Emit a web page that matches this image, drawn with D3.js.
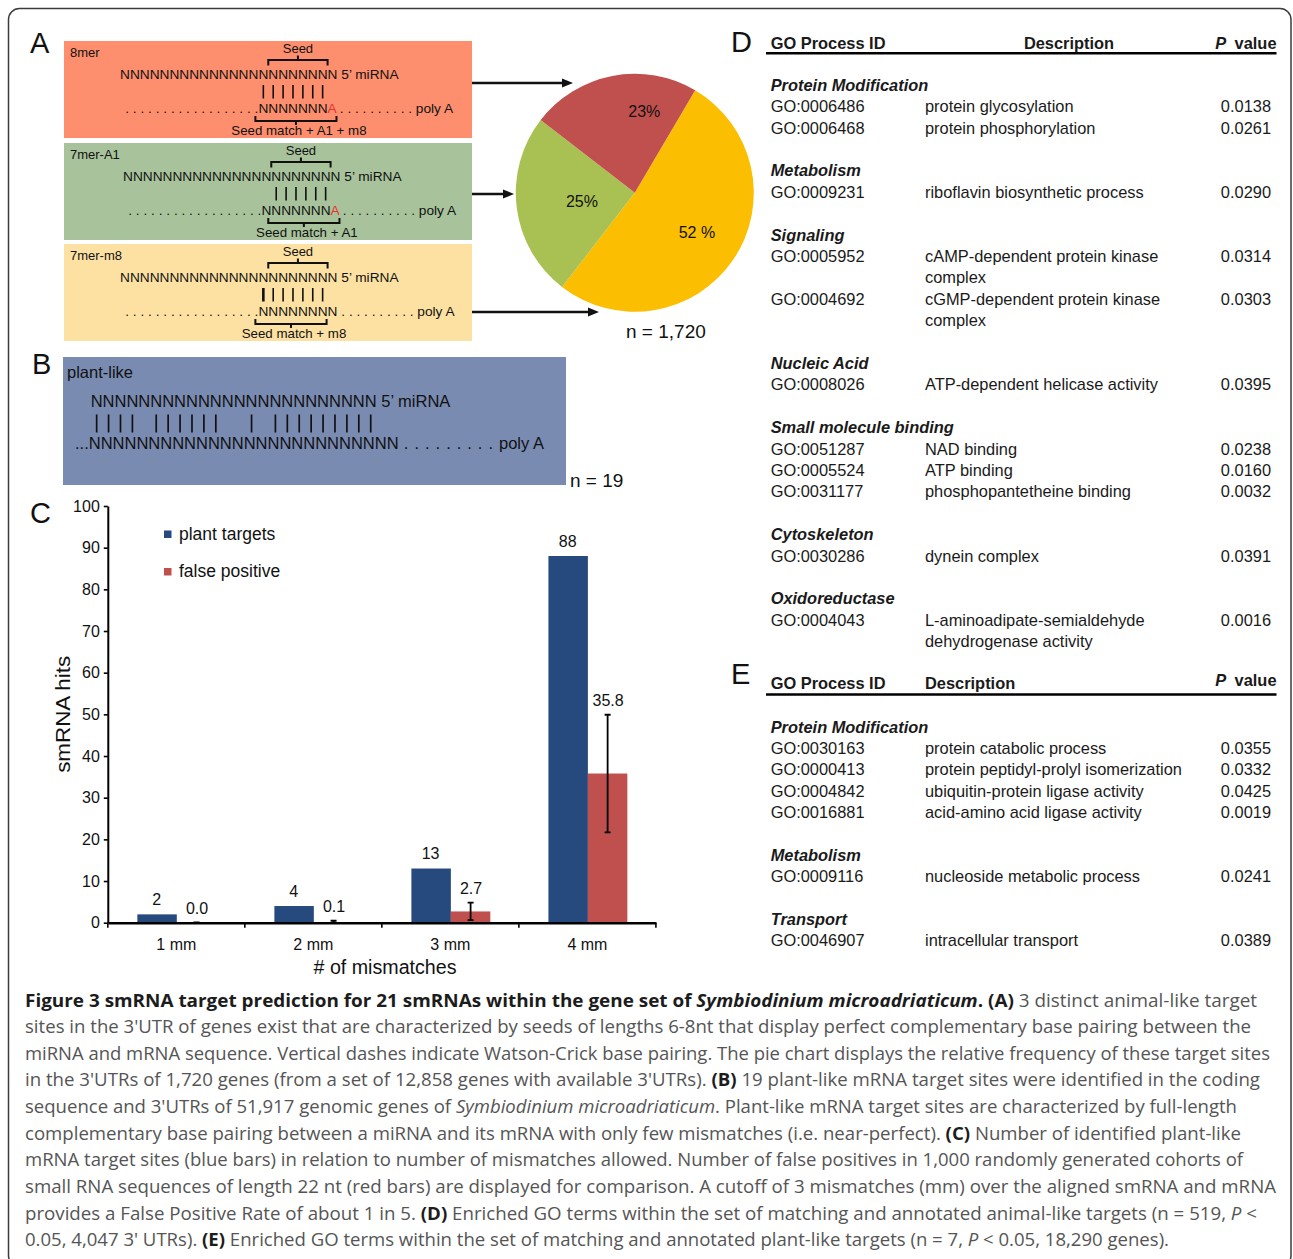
<!DOCTYPE html>
<html>
<head>
<meta charset="utf-8">
<script src="https://cdn.jsdelivr.net/npm/d3@7"></script>
<style>
  body { margin: 0; background: #fff; }
  svg { display: block; }
  text { white-space: pre; }
</style>
</head>
<body>
<svg id="fig" width="1293" height="1259"></svg>
<script>
// ---------- data ----------
// (A) animal-like seed sites
const siteTypes = ['8mer', '7mer-A1', '7mer-m8'];
const siteShares = [23, 25, 52];                 // % of 1,720 genes
const siteShareLabels = ['23%', '25%', '52 %'];
const sitePairFrom = [14, 15, 14];               // paired miRNA positions (0-based, 22 nt shown)
const sitePairTo = [20, 20, 20];
const siteTargets = ['NNNNNNNA', 'NNNNNNNA', 'NNNNNNNN'];
const siteMatchFrom = [14, 15, 14];
const siteMatchTo = [21, 21, 20];
const siteMatchLabels = ['Seed match + A1 + m8', 'Seed match + A1', 'Seed match + m8'];
const animalTotal = 'n = 1,720';

// (B) plant-like full-length pairing
const plantPairing = '111101111110010111111111';
const plantTotal = 'n = 19';

// (C) hits per number of mismatches
const mismatchCats = ['1 mm', '2 mm', '3 mm', '4 mm'];
const plantTargets = [2, 4, 13, 88];
const falsePositives = [0.0, 0.1, 2.7, 35.8];
const falsePositiveErr = [0.1, 0.4, 2.1, 14.1];
const yTicks = [0, 10, 20, 30, 40, 50, 60, 70, 80, 90, 100];
const seriesNames = ['plant targets', 'false positive'];

// (D) enriched GO terms, animal-like targets
const goAnimalGroups = ['Protein Modification', 'Metabolism', 'Signaling', 'Nucleic Acid',
  'Small molecule binding', 'Cytoskeleton', 'Oxidoreductase'];
const goAnimalGroupOf = [0, 0, 1, 2, 2, 3, 4, 4, 4, 5, 6];
const goAnimalIds = ['GO:0006486', 'GO:0006468', 'GO:0009231', 'GO:0005952', 'GO:0004692',
  'GO:0008026', 'GO:0051287', 'GO:0005524', 'GO:0031177', 'GO:0030286', 'GO:0004043'];
const goAnimalTerms = ['protein glycosylation', 'protein phosphorylation',
  'riboflavin biosynthetic process', 'cAMP-dependent protein kinase\ncomplex',
  'cGMP-dependent protein kinase\ncomplex', 'ATP-dependent helicase activity',
  'NAD binding', 'ATP binding', 'phosphopantetheine binding', 'dynein complex',
  'L-aminoadipate-semialdehyde\ndehydrogenase activity'];
const goAnimalP = [0.0138, 0.0261, 0.0290, 0.0314, 0.0303, 0.0395, 0.0238, 0.0160, 0.0032, 0.0391, 0.0016];

// (E) enriched GO terms, plant-like targets
const goPlantGroups = ['Protein Modification', 'Metabolism', 'Transport'];
const goPlantGroupOf = [0, 0, 0, 0, 1, 2];
const goPlantIds = ['GO:0030163', 'GO:0000413', 'GO:0004842', 'GO:0016881', 'GO:0009116', 'GO:0046907'];
const goPlantTerms = ['protein catabolic process', 'protein peptidyl-prolyl isomerization',
  'ubiquitin-protein ligase activity', 'acid-amino acid ligase activity',
  'nucleoside metabolic process', 'intracellular transport'];
const goPlantP = [0.0355, 0.0332, 0.0425, 0.0019, 0.0241, 0.0389];

// legend text (** bold, _ italic)
const captionLines = [
  '**Figure 3 smRNA target prediction for 21 smRNAs within the gene set of _Symbiodinium microadriaticum_.** **(A)** 3 distinct animal-like target',
  "sites in the 3'UTR of genes exist that are characterized by seeds of lengths 6-8nt that display perfect complementary base pairing between the",
  'miRNA and mRNA sequence. Vertical dashes indicate Watson-Crick base pairing. The pie chart displays the relative frequency of these target sites',
  "in the 3'UTRs of 1,720 genes (from a set of 12,858 genes with available 3'UTRs). **(B)** 19 plant-like mRNA target sites were identified in the coding",
  "sequence and 3'UTRs of 51,917 genomic genes of _Symbiodinium microadriaticum_. Plant-like mRNA target sites are characterized by full-length",
  'complementary base pairing between a miRNA and its mRNA with only few mismatches (i.e. near-perfect). **(C)** Number of identified plant-like',
  'mRNA target sites (blue bars) in relation to number of mismatches allowed. Number of false positives in 1,000 randomly generated cohorts of',
  'small RNA sequences of length 22 nt (red bars) are displayed for comparison. A cutoff of 3 mismatches (mm) over the aligned smRNA and mRNA',
  'provides a False Positive Rate of about 1 in 5. **(D)** Enriched GO terms within the set of matching and annotated animal-like targets (n = 519, _P_ <',
  "0.05, 4,047 3' UTRs). **(E)** Enriched GO terms within the set of matching and annotated plant-like targets (n = 7, _P_ < 0.05, 18,290 genes)."
];

// ---------- drawing ----------
const FONT = "'Liberation Sans', Arial, Helvetica, sans-serif";
const svg = d3.select('#fig');
const ink = '#111';

function measure(str, size, weight) {
  const t = svg.append('text').attr('font-family', FONT).attr('font-size', size)
    .attr('font-weight', weight || 400).text(str);
  const w = t.node().getComputedTextLength();
  t.remove();
  return w;
}

// frame
svg.append('rect').attr('x', 8.5).attr('y', 8.5).attr('width', 1282.5).attr('height', 1258)
  .attr('rx', 11).attr('fill', 'none').attr('stroke', '#3c3c3c').attr('stroke-width', 1.5);

// panel letters
[['A', 30, 53], ['B', 32, 374], ['C', 30, 523], ['D', 731, 52], ['E', 731, 684]].forEach(([l, x, y]) => {
  svg.append('text').attr('x', x).attr('y', y).attr('font-family', FONT).attr('font-size', 29)
    .attr('fill', ink).text(l);
});

// ===== Panel A: seed-site diagrams =====
const boxColors = ['#FD8F6E', '#A8C39C', '#FDE1A3'];
const sliceColors = ['#C0504D', '#A9C152', '#FBBE00'];
const boxTop = [41, 143, 244];
const miX0 = [120, 123, 120];
const fsA = 13.7;
const nW = measure('N'.repeat(22), fsA) / 22;
const gA = svg.append('g').attr('font-family', FONT).attr('fill', ink);

siteTypes.forEach((name, i) => {
  const top = boxTop[i];
  const px = k => miX0[i] + k * nW;
  gA.append('rect').attr('x', 64).attr('y', top).attr('width', 408).attr('height', 97)
    .attr('fill', boxColors[i]);
  gA.append('text').attr('x', 70).attr('y', top + 15.5).attr('font-size', 13).text(name);

  // seed bracket over miRNA positions 2-7
  const sx1 = px(15), sx2 = px(21), sxm = (sx1 + sx2) / 2;
  gA.append('text').attr('x', sxm).attr('y', top + 11.7).attr('font-size', 13)
    .attr('text-anchor', 'middle').text('Seed');
  gA.append('path').attr('fill', 'none').attr('stroke', ink).attr('stroke-width', 2)
    .attr('d', `M${sx1},${top + 24.5}V${top + 19}H${sx2}V${top + 24.5}M${sxm},${top + 19}V${top + 14.5}`);

  // miRNA strand
  gA.append('text').attr('x', px(0)).attr('y', top + 37.5).attr('font-size', fsA)
    .text('N'.repeat(22) + ' 5’ miRNA');

  // Watson-Crick pairs
  const pairs = d3.range(sitePairFrom[i], sitePairTo[i] + 1);
  gA.selectAll(null).data(pairs).join('line')
    .attr('x1', k => px(k + 0.5)).attr('x2', k => px(k + 0.5))
    .attr('y1', top + 44).attr('y2', top + 57.5)
    .attr('stroke', ink).attr('stroke-width', (k, j) => (i === 2 && j === 0) ? 2.6 : 1.6);

  // mRNA strand
  gA.append('text').attr('x', px(14)).attr('y', top + 72).attr('font-size', fsA)
    .attr('text-anchor', 'end').text('. '.repeat(17) + '.');
  const tgt = gA.append('text').attr('x', px(14)).attr('y', top + 72).attr('font-size', fsA);
  siteTargets[i].split('').forEach(ch => {
    tgt.append('tspan').attr('fill', ch === 'A' ? '#E8322B' : ink).text(ch);
  });
  tgt.append('tspan').text(' .'.repeat(10) + ' poly A');

  // seed-match bracket under the target
  const bx1 = px(siteMatchFrom[i]) - 3, bx2 = px(siteMatchTo[i] + 1) - 1, bxm = (bx1 + bx2) / 2;
  gA.append('path').attr('fill', 'none').attr('stroke', ink).attr('stroke-width', 2)
    .attr('d', `M${bx1},${top + 75}V${top + 80}H${bx2}V${top + 75}M${bxm},${top + 80}V${top + 84}`);
  gA.append('text').attr('x', bxm + 3).attr('y', top + 94).attr('font-size', 13.3)
    .attr('text-anchor', 'middle').text(siteMatchLabels[i]);
});

// pie of site frequencies
const pieC = [634.8, 192.8], pieR = 119;
const pieOrder = [2, 1, 0];  // 7mer-m8, 7mer-A1, 8mer clockwise
const startA = 30.5 * Math.PI / 180;
const arcs = d3.pie().sort(null).value(k => siteShares[k])
  .startAngle(startA).endAngle(startA + 2 * Math.PI)(pieOrder);
const arcGen = d3.arc().innerRadius(0).outerRadius(pieR);
const labelArc = d3.arc().innerRadius(pieR * 0.6).outerRadius(pieR * 0.6);
const labelNudge = [[23, -11], [18, 0], [3, 0]];
const gP = svg.append('g').attr('transform', `translate(${pieC[0]},${pieC[1]})`);
gP.selectAll('path').data(arcs).join('path').attr('d', arcGen)
  .attr('fill', d => sliceColors[d.data]);
gP.selectAll('text').data(arcs).join('text')
  .attr('x', d => labelArc.centroid(d)[0] + labelNudge[d.data][0])
  .attr('y', d => labelArc.centroid(d)[1] + labelNudge[d.data][1] + 5.6)
  .attr('text-anchor', 'middle').attr('font-family', FONT).attr('font-size', 16)
  .attr('fill', ink).text(d => siteShareLabels[d.data]);

// arrows from each site box to the pie
const arrowY = [83, 194, 312], arrowTip = [573, 514, 599];
siteTypes.forEach((s, i) => {
  svg.append('line').attr('x1', 472).attr('x2', arrowTip[i] - 8).attr('y1', arrowY[i]).attr('y2', arrowY[i])
    .attr('stroke', ink).attr('stroke-width', 2.4);
  svg.append('path').attr('fill', ink)
    .attr('d', `M${arrowTip[i]},${arrowY[i]}L${arrowTip[i] - 11},${arrowY[i] - 4.5}L${arrowTip[i] - 11},${arrowY[i] + 4.5}Z`);
});
svg.append('text').attr('x', 626).attr('y', 338).attr('font-family', FONT).attr('font-size', 19)
  .attr('fill', ink).text(animalTotal);

// ===== Panel B: plant-like pairing =====
const gB = svg.append('g').attr('font-family', FONT).attr('fill', ink);
gB.append('rect').attr('x', 63).attr('y', 357).attr('width', 503).attr('height', 128).attr('fill', '#7A8BB1');
gB.append('text').attr('x', 67).attr('y', 378).attr('font-size', 16.5).text('plant-like');
const fsB = 16.5;
const nWB = measure('N'.repeat(24), fsB) / 24;
const bx0 = 90.7;
gB.append('text').attr('x', bx0).attr('y', 407).attr('font-size', fsB).text('N'.repeat(24) + ' 5’ miRNA');
const pairIdx = plantPairing.split('').map((c, k) => c === '1' ? k : -1).filter(k => k >= 0);
gB.selectAll(null).data(pairIdx).join('line')
  .attr('x1', k => bx0 + (k + 0.5) * nWB).attr('x2', k => bx0 + (k + 0.5) * nWB)
  .attr('y1', 414.5).attr('y2', 432.5).attr('stroke', ink).attr('stroke-width', 1.7);
const mB = gB.append('text').attr('x', 75).attr('y', 449).attr('font-size', fsB);
mB.append('tspan').text('...' + 'N'.repeat(26));
mB.append('tspan').attr('letter-spacing', 0.7).text(' .'.repeat(9) + ' ');
mB.append('tspan').text('poly A');
svg.append('text').attr('x', 570).attr('y', 487).attr('font-family', FONT).attr('font-size', 19)
  .attr('fill', ink).text(plantTotal);

// ===== Panel C: bar chart =====
const gC = svg.append('g').attr('font-family', FONT);
const y = d3.scaleLinear().domain([0, 100]).range([922.7, 506]);
const x = d3.scaleBand().domain(mismatchCats).range([107.8, 655.9]);
const barW = x.bandwidth() * 0.288;
const mid = c => x(c) + x.bandwidth() / 2;
const blue = '#264A7D', red = '#C0504D';

gC.selectAll('rect.pt').data(plantTargets).join('rect').attr('class', 'pt')
  .attr('x', (d, i) => mid(mismatchCats[i]) - barW + 0.5).attr('y', d => y(d))
  .attr('width', barW).attr('height', d => y(0) - y(d)).attr('fill', blue);
gC.selectAll('rect.fp').data(falsePositives).join('rect').attr('class', 'fp')
  .attr('x', (d, i) => mid(mismatchCats[i]) + 0.5).attr('y', d => y(d))
  .attr('width', barW).attr('height', d => y(0) - y(d)).attr('fill', red);

// error bars on false positives
falsePositives.forEach((v, i) => {
  const cx = mid(mismatchCats[i]) + 0.5 + barW / 2;
  const lo = y(Math.max(0, v - falsePositiveErr[i])), hi = y(v + falsePositiveErr[i]);
  gC.append('path').attr('fill', 'none').attr('stroke', '#000').attr('stroke-width', 1.8)
    .attr('d', `M${cx},${lo}V${hi}M${cx - 3},${hi}H${cx + 3}M${cx - 3},${lo}H${cx + 3}`);
});

// value labels
gC.selectAll('text.vp').data(plantTargets).join('text').attr('class', 'vp')
  .attr('x', (d, i) => mid(mismatchCats[i]) - barW / 2).attr('y', d => y(d) - 9.5)
  .attr('text-anchor', 'middle').attr('font-size', 16).attr('fill', ink).text(d3.format('d'));
gC.selectAll('text.vf').data(falsePositives).join('text').attr('class', 'vf')
  .attr('x', (d, i) => mid(mismatchCats[i]) + barW / 2 + 1).attr('y', (d, i) => y(d + falsePositiveErr[i]) - 8.5)
  .attr('text-anchor', 'middle').attr('font-size', 16).attr('fill', ink).text(d3.format('.1f'));

// axes
const yAx = gC.append('g').attr('transform', 'translate(107.8,0)')
  .call(d3.axisLeft(y).tickValues(yTicks).tickSize(4).tickSizeOuter(0).tickPadding(4));
const xAx = gC.append('g').attr('transform', `translate(0,${y(0)})`)
  .call(d3.axisBottom(x).tickSize(0).tickSizeOuter(0).tickPadding(16));
[yAx, xAx].forEach(a => {
  a.selectAll('text').attr('font-family', FONT).attr('font-size', 16).attr('fill', ink);
  a.selectAll('line').attr('stroke', '#000').attr('stroke-width', 1.6);
});
yAx.select('.domain').attr('stroke', '#000').attr('stroke-width', 2);
xAx.select('.domain').attr('stroke', '#000').attr('stroke-width', 2.5);
const bounds = mismatchCats.map(c => x(c)).concat([x.range()[1]]);
gC.selectAll('line.xb').data(bounds).join('line').attr('class', 'xb')
  .attr('x1', d => d).attr('x2', d => d).attr('y1', y(0)).attr('y2', y(0) + 5)
  .attr('stroke', '#000').attr('stroke-width', 1.6);

gC.append('text').attr('x', 385).attr('y', 973.5).attr('text-anchor', 'middle')
  .attr('font-size', 20).attr('textLength', 143).attr('lengthAdjust', 'spacingAndGlyphs')
  .attr('fill', ink).text('# of mismatches');
gC.append('text').attr('transform', `translate(69.5,${(y(0) + y(100)) / 2}) rotate(-90)`)
  .attr('text-anchor', 'middle').attr('font-size', 20.5).attr('textLength', 117)
  .attr('lengthAdjust', 'spacingAndGlyphs').attr('fill', ink).text('smRNA hits');

// legend
[blue, red].forEach((col, i) => {
  gC.append('rect').attr('x', 164).attr('y', 530.5 + i * 37.5).attr('width', 7.5).attr('height', 7.5).attr('fill', col);
  gC.append('text').attr('x', 179).attr('y', 540 + i * 37.3).attr('font-size', 17.5)
    .attr('fill', ink).text(seriesNames[i]);
});

// ===== Panels D and E: GO tables =====
const fmtP = d3.format('.4f');
function goTable(o) {
  const g = svg.append('g').attr('font-family', FONT).attr('fill', '#1a1a1a').attr('font-size', 16.4);
  g.append('text').attr('x', 770.7).attr('y', o.headY).attr('font-weight', 700).text('GO Process ID');
  g.append('text').attr('x', o.descHeadX).attr('y', o.headY).attr('font-weight', 700)
    .attr('text-anchor', o.descHeadAnchor).text('Description');
  const pv = g.append('text').attr('x', 1276.5).attr('y', o.headY - o.pLift).attr('font-weight', 700)
    .attr('text-anchor', 'end');
  pv.append('tspan').attr('font-style', 'italic').text('P ');
  pv.append('tspan').text(' value');
  g.append('line').attr('x1', 766).attr('x2', 1276.5).attr('y1', o.ruleY).attr('y2', o.ruleY)
    .attr('stroke', '#000').attr('stroke-width', 2.6);

  let line = 0, lastGroup = -1;
  o.ids.forEach((id, i) => {
    const grp = o.groupOf[i];
    if (grp !== lastGroup) {
      if (lastGroup >= 0) line += 1;
      g.append('text').attr('x', 770.7).attr('y', o.y0 + line * o.lh)
        .attr('font-weight', 700).attr('font-style', 'italic').text(o.groups[grp]);
      line += 1;
      lastGroup = grp;
    }
    const yy = o.y0 + line * o.lh;
    g.append('text').attr('x', 770.7).attr('y', yy).text(id);
    g.append('text').attr('x', 1271).attr('y', yy).attr('text-anchor', 'end').text(fmtP(o.p[i]));
    o.terms[i].split('\n').forEach(part => {
      g.append('text').attr('x', 925).attr('y', o.y0 + line * o.lh).text(part);
      line += 1;
    });
  });
}
goTable({ headY: 48.5, pLift: 0, ruleY: 53.2, y0: 90.7, lh: 21.4, descHeadX: 1069, descHeadAnchor: 'middle',
  groups: goAnimalGroups, groupOf: goAnimalGroupOf, ids: goAnimalIds, terms: goAnimalTerms, p: goAnimalP });
goTable({ headY: 688.5, pLift: 2.3, ruleY: 694.5, y0: 732.7, lh: 21.33, descHeadX: 925, descHeadAnchor: 'start',
  groups: goPlantGroups, groupOf: goPlantGroupOf, ids: goPlantIds, terms: goPlantTerms, p: goPlantP });

// ===== figure legend =====
const capEnds = [1257, 1251, 1270, 1260, 1237, 1241, 1243, 1276, 1257, 1169];
captionLines.forEach((str, li) => {
  const t = svg.append('text').attr('x', 25).attr('y', 1006.5 + li * 26.65)
    .attr('font-family', "'Open Sans', 'Noto Sans', sans-serif").attr('font-size', 18.2)
    .attr('textLength', capEnds[li] - 25).attr('lengthAdjust', 'spacingAndGlyphs');
  let bold = false, ital = false;
  str.split(/(\*\*|_)/).forEach(tok => {
    if (tok === '**') { bold = !bold; return; }
    if (tok === '_') { ital = !ital; return; }
    if (!tok) return;
    t.append('tspan').attr('font-weight', bold ? 700 : 400)
      .attr('font-style', ital ? 'italic' : 'normal')
      .attr('fill', bold ? '#1c1c1c' : '#555').text(tok);
  });
});
</script>
</body>
</html>
